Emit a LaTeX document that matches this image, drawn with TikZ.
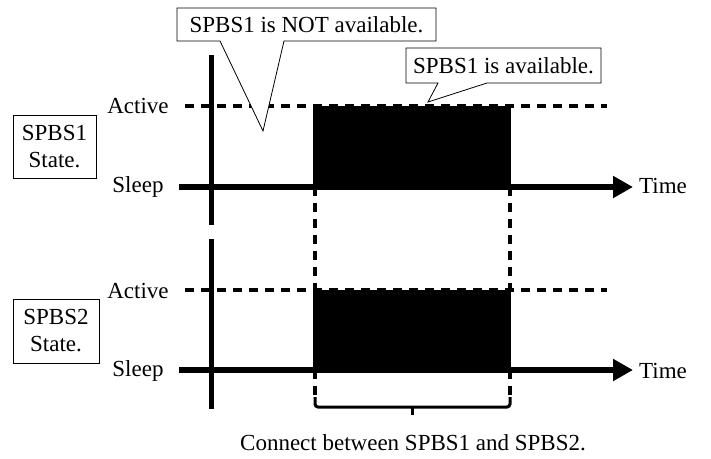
\documentclass[tikz,border=0pt]{standalone}
\usepackage{fontspec}
\setmainfont{Liberation Serif}
\usetikzlibrary{arrows.meta}
\begin{document}
\begin{tikzpicture}[x=1pt,y=-1pt,
  font=\fontsize{23}{27}\selectfont,
  dashln/.style={line width=3.2pt, dash pattern=on 9pt off 7pt},
  axisln/.style={line width=5pt},
  sleepln/.style={line width=6pt, -{Triangle[length=20pt,width=21pt]}},
  statebox/.style={draw, line width=0.8pt, align=center, inner sep=0pt},
  callout/.style={draw, line width=0.8pt, fill=white},
  lbl/.style={inner sep=0pt},
  bracket/.style={line width=3pt, rounded corners=3pt}]
\useasboundingbox (0,0) rectangle (711,458);
% coordinates
\coordinate (a1s) at (185,106); \coordinate (a1e) at (607,106);
\coordinate (a2s) at (185,290); \coordinate (a2e) at (607,290);
\coordinate (s1s) at (179,187); \coordinate (s1e) at (633,187);
\coordinate (s2s) at (179,370); \coordinate (s2e) at (633,370);
\coordinate (ax1t) at (211,55); \coordinate (ax1b) at (211,225);
\coordinate (ax2t) at (211,239); \coordinate (ax2b) at (211,409);
% active dashed lines
\draw[dashln] (a1s) -- (a1e);
\draw[dashln] (a2s) -- (a2e);
% vertical dashed connections
\draw[dashln] (315,187) -- (315,290);
\draw[dashln] (510,187) -- (510,290);
\draw[dashln] (315,370) -- (315,398);
\draw[dashln] (510,370) -- (510,398);
% active blocks
\fill (313,106) rectangle (511,188);
\fill (313,290) rectangle (511,371);
% time axes
\draw[axisln] (ax1t) -- (ax1b);
\draw[axisln] (ax2t) -- (ax2b);
\draw[sleepln] (s1s) -- (s1e);
\draw[sleepln] (s2s) -- (s2e);
% bracket
\draw[bracket] (315,397) -- (315,407) -- (510,407) -- (510,397);
\draw[line width=3pt] (412,407) -- (412,415);
% labels
\node[lbl] (act1) at (138,106) {Active};
\node[lbl] (slp1) at (138,187) {Sleep};
\node[lbl] (act2) at (138,291) {Active};
\node[lbl] (slp2) at (138,371) {Sleep};
\node[lbl, anchor=west] (t1) at (639,186) {Time};
\node[lbl, anchor=west] (t2) at (639,371) {Time};
\node[statebox, minimum width=83pt, minimum height=63pt] (st1) at (54.5,146.5) {SPBS1\\State.};
\node[statebox, minimum width=86pt, minimum height=64pt] (st2) at (56,331) {SPBS2\\State.};
\node[lbl] (cap) at (413,443) {Connect between SPBS1 and SPBS2.};
% callouts
\draw[callout] (177,8) -- (436,8) -- (436,41) -- (284,41) -- (263,131) -- (220,41) -- (177,41) -- cycle;
\node[lbl] (c1) at (306.5,24.5) {SPBS1 is NOT available.};
\draw[callout] (406,48) -- (601,48) -- (601,83) -- (487,83) -- (428,102) -- (438,83) -- (406,83) -- cycle;
\node[lbl] (c2) at (503.5,65.5) {SPBS1 is available.};
\end{tikzpicture}
\end{document}
